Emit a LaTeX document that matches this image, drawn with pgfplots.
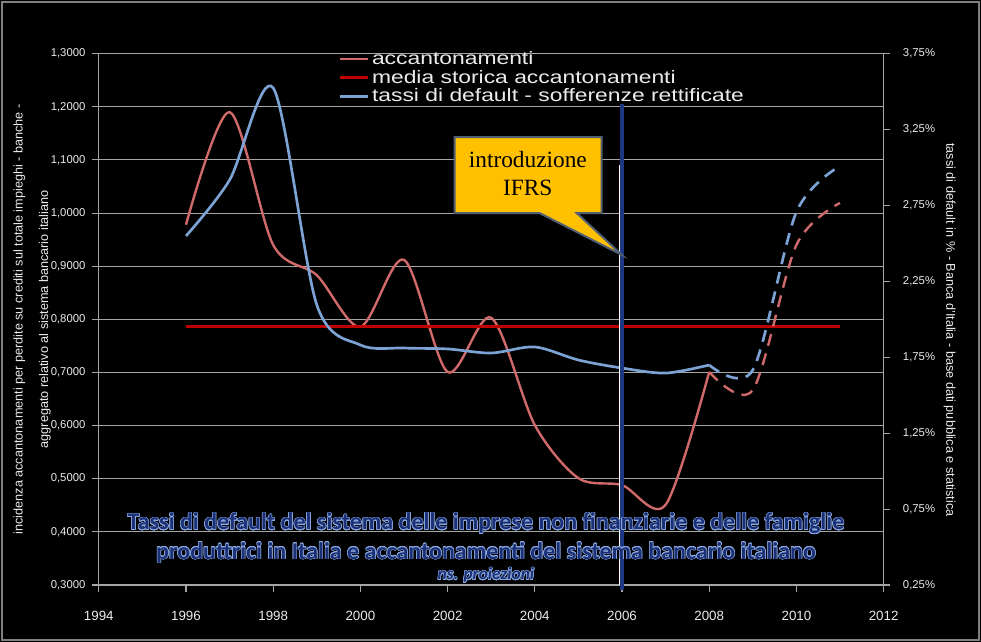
\documentclass[border=0pt]{standalone}
\usepackage{pgfplots}
\pgfplotsset{compat=1.18}
\usepackage{fontspec}
\setmainfont{Liberation Sans}
\newfontfamily\carlito{Carlito}
\newfontfamily\lserif{Liberation Serif}
\usepackage{contour}
\contourlength{0.4pt}
\definecolor{accred}{RGB}{208,105,105}
\definecolor{medred}{RGB}{192,0,0}
\definecolor{tblue}{RGB}{125,162,212}
\definecolor{navyv}{RGB}{30,55,130}
\definecolor{callout}{RGB}{255,192,0}
\definecolor{callborder}{RGB}{80,95,115}
\definecolor{titleblue}{RGB}{28,48,118}
\definecolor{titleedge}{RGB}{140,170,225}
\definecolor{gridgray}{RGB}{165,165,165}
\definecolor{txt}{RGB}{235,235,235}
\newcommand{\wide}[1]{\scalebox{1.27}[1]{#1}}
\begin{document}
\begin{tikzpicture}
\path[use as bounding box] (0,0) rectangle (735.75pt,481.5pt);
\fill[black] (0,0) rectangle (735.75pt,481.5pt);
\draw[gray, line width=1pt] (1.5pt,1.5pt) rectangle (734.25pt,480pt);
\pgfplotsset{
  base/.style={
    scale only axis, width=588.6pt, height=398.5pt,
    at={(74.1pt,42.75pt)}, anchor=south west,
    xmin=1994, xmax=2012, clip=false,
    tick align=outside, major tick length=5pt,
    every tick/.style={gridgray, line width=0.8pt},
    axis line style={gridgray, line width=0.8pt},
    ticklabel style={text=txt, font=\fontsize{8.5}{10}\selectfont},
  }
}
\begin{axis}[base,
  axis x line*=bottom, axis y line*=left,
  ymin=0.3, ymax=1.3,
  ytick={0.3,0.4,0.5,0.6,0.7,0.8,0.9,1.0,1.1,1.2,1.3},
  xtick={1994,1996,...,2012},
  xticklabel style={/pgf/number format/1000 sep={}, /pgf/number format/assume math mode=true, font=\fontsize{10}{12}\selectfont, yshift=-11pt},
  yticklabel style={/pgf/number format/fixed, /pgf/number format/fixed zerofill, /pgf/number format/precision=4, /pgf/number format/use comma, /pgf/number format/assume math mode=true, xshift=-1.5pt},
  ymajorgrids, grid style={gridgray, line width=0.8pt},
  ylabel={incidenza accantonamenti per perdite su crediti sul totale impieghi - banche -\\aggregato relativo al sistema bancario italiano},
  ylabel style={at={(axis description cs:-0.085,0.5)}, anchor=center, align=center, text=txt, font=\fontsize{9.5}{19}\selectfont},
  legend style={at={(axis description cs:0.305,1.010)}, anchor=north west, fill=none, draw=none, text=txt, font=\fontsize{13.5}{14}\selectfont, row sep=-1.2pt, inner sep=0pt},
  legend cell align=left,
  legend image code/.code={\draw[#1] (0pt,0pt) -- (21pt,0pt);},
]
\addplot[accred, line width=1.8pt, smooth] coordinates {
 (1996,0.978) (1997,1.190) (1998,0.940) (1999,0.883) (2000,0.786) (2001,0.912)
 (2002,0.701) (2003,0.803) (2004,0.601) (2005,0.501) (2006,0.488) (2007,0.451) (2008,0.701)};
\addlegendentry{\wide{accantonamenti}}
\addplot[medred, line width=2.2pt] coordinates {(1996,0.786) (2011,0.786)};
\addlegendentry{\wide{media storica accantonamenti}}
\addlegendimage{tblue, line width=2pt}
\addlegendentry{\wide{tassi di default - sofferenze rettificate}}
\addplot[accred, line width=1.8pt, smooth, dash pattern=on 9pt off 6pt, forget plot] coordinates {
 (2008,0.701) (2009,0.667) (2010,0.940) (2011,1.019)};
\end{axis}
\begin{axis}[base,
  axis y line*=right, axis x line=none,
  ymin=0.25, ymax=3.75,
  ytick={0.25,0.75,1.25,1.75,2.25,2.75,3.25,3.75},
  yticklabel={\pgfmathprintnumber[fixed,fixed zerofill,precision=2,use comma,assume math mode=true]{\tick}\%},
  yticklabel style={xshift=6pt},
  ylabel={tassi di default in \% - Banca d'Italia - base dati pubblica e statistica},
  ylabel style={at={(axis description cs:1.084,0.48)}, anchor=center, rotate=180, text=txt, font=\fontsize{9.5}{10}\selectfont},
]
\addplot[tblue, line width=2pt, smooth] coordinates {
 (1996,2.549) (1997,2.918) (1998,3.524) (1999,2.095) (2000,1.831) (2001,1.811)
 (2002,1.805) (2003,1.778) (2004,1.818) (2005,1.732) (2006,1.679) (2007,1.646) (2008,1.699)};
\addplot[tblue, line width=2pt, smooth, dash pattern=on 9pt off 6pt] coordinates {
 (2008,1.699) (2009,1.666) (2010,2.707) (2011,3.010)};
\end{axis}
\begin{axis}[base, axis lines=none, ymin=0.3, ymax=1.3]
\draw[white, line width=0.6pt] (axis cs:2005.93,1.090) -- (axis cs:2005.93,0.3);
\draw[navyv, line width=2.3pt] (axis cs:2006,1.205) -- (axis cs:2006,0.29);
\draw[fill=callout, draw=callborder, line width=1.5pt, line join=miter]
  (axis cs:2002.16,1.143) -- (axis cs:2005.53,1.143) -- (axis cs:2005.53,1.000)
  -- (axis cs:2004.96,1.000) -- (axis cs:2006.0,0.921) -- (axis cs:2004.11,1.000)
  -- (axis cs:2002.16,1.000) -- cycle;
\node[align=center, text=black, font=\lserif\fontsize{17.5}{21}\selectfont] at (axis cs:2003.84,1.074) {introduzione\\IFRS};
\node[align=center, text=titleblue, font=\carlito\bfseries\fontsize{18}{22}\selectfont] at (axis cs:2002.88,0.388)
  {\contour{titleedge}{Tassi di default del sistema delle imprese non finanziarie e delle famiglie}\\
   \contour{titleedge}{produttrici in Italia e accantonamenti del sistema bancario italiano}};
\node[text=titleblue, font=\carlito\bfseries\itshape\fontsize{13}{14}\selectfont] at (axis cs:2002.88,0.318)
  {\contour{titleedge}{ns. proiezioni}};
\end{axis}
\end{tikzpicture}
\end{document}
